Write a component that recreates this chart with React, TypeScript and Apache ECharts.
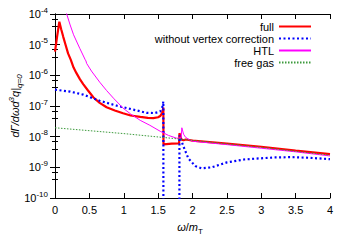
import React, { useEffect, useRef } from "react";
import * as echarts from "echarts";

// ω/m_T positions and rates dΓ/dωd³q
const fullOmega = [0, 0.03, 0.063, 0.09, 0.12, 0.15, 0.19, 0.23, 0.27, 0.31, 0.364, 0.41, 0.48, 0.56, 0.65, 0.75, 0.87, 0.99, 1.1, 1.24, 1.35, 1.43, 1.5, 1.53, 1.56, 1.576, 1.578, 1.7, 1.805, 1.81, 1.84, 1.87, 1.9, 1.95, 2.0, 2.5, 3.0, 3.5, 4.0];
const fullRate = [5.9e-6, 1.8e-5, 5.6e-5, 3.2e-5, 1.8e-5, 1.05e-5, 5.2e-6, 3.2e-6, 1.8e-6, 1.2e-6, 7.4e-7, 5.2e-7, 3.2e-7, 1.9e-7, 1.26e-7, 9.1e-8, 7.1e-8, 5.8e-8, 4.9e-8, 4.4e-8, 4.1e-8, 4.0e-8, 4.3e-8, 4.7e-8, 6.0e-8, 8.9e-8, 5.6e-9, 5.9e-9, 6.0e-9, 1.3e-8, 8.1e-9, 7.6e-9, 8.1e-9, 7.8e-9, 7.4e-9, 5.9e-9, 4.7e-9, 3.5e-9, 2.7e-9];

const noVertexOmega = [0, 0.22, 0.41, 0.65, 0.9, 1.14, 1.33, 1.45, 1.53, 1.56, 1.576, 1.577, 1.809, 1.81, 1.87, 1.94, 2.04, 2.13, 2.28, 2.5, 2.75, 2.96, 3.2, 3.44, 3.7, 4.0];
const noVertexRate = [3.4e-7, 2.95e-7, 2.35e-7, 1.48e-7, 1.02e-7, 7.6e-8, 6.0e-8, 5.9e-8, 6.6e-8, 8.9e-8, 1.4e-7, 1e-13, 1e-13, 1.1e-8, 4.7e-9, 1.95e-9, 1.1e-9, 9.3e-10, 1.0e-9, 1.45e-9, 1.8e-9, 1.95e-9, 2.1e-9, 2.15e-9, 2.05e-9, 1.85e-9];

const htlOmega = [0.12, 0.17, 0.22, 0.27, 0.36, 0.44, 0.45, 0.46, 0.53, 0.65, 0.75, 0.85, 0.99, 1.1, 1.24, 1.38, 1.53, 1.65, 1.77, 1.835, 1.845, 1.87, 1.9, 1.96, 2.0, 2.5, 3.0, 3.5, 4.0];
const htlRate = [2.4e-4, 1.0e-4, 4.4e-5, 2.1e-5, 7.6e-6, 3.2e-6, 2.95e-6, 2.45e-6, 1.38e-6, 6.0e-7, 3.2e-7, 1.8e-7, 8.5e-8, 5.5e-8, 3.4e-8, 2.35e-8, 1.5e-8, 1.1e-8, 8.9e-9, 9.1e-9, 1.95e-8, 1.2e-8, 9.5e-9, 7.8e-9, 7.1e-9, 5.5e-9, 4.2e-9, 3.2e-9, 2.35e-9];

const freeGasOmega = [0, 1.0, 1.6, 2.0, 3.0, 4.0];
const freeGasRate = [1.95e-8, 1.26e-8, 9.3e-9, 7.6e-9, 4.5e-9, 2.5e-9];

const seriesNames = ["full", "without vertex correction", "HTL", "free gas"];
const xTicks = [0, 0.5, 1, 1.5, 2, 2.5, 3, 3.5, 4];
const yTitle = "{i|dΓ/dωd}{s|3}{i|q|}{sub|q=0}";
const xTitle = "{i|ω}{n|/}{i|m}{sub|T}";

const FONT = "Liberation Sans";

function pairs(xs: number[], ys: number[]) {
  return xs.map((x, i) => [x, ys[i]]);
}

export default function App() {
  const ref = useRef<HTMLDivElement>(null);
  useEffect(() => {
    if (!ref.current) return;
    const chart = echarts.init(ref.current, null, { renderer: "svg" });
    const axisLine = { show: true, lineStyle: { color: "#000", width: 1 } };
    const yLabelRich = {
      b: { fontSize: 11, fontFamily: FONT, color: "#000", lineHeight: 16, verticalAlign: "middle" },
      s: { fontSize: 8, fontFamily: FONT, color: "#000", verticalAlign: "top", lineHeight: 10 },
    };
    const yAxisBase = {
      type: "log",
      logBase: 10,
      min: 1e-10,
      max: 1e-4,
      axisLine,
      splitLine: { show: false },
      axisTick: { show: true, inside: true, length: 5, lineStyle: { color: "#000" } },
      minorTick: { show: true, splitNumber: 3, length: 3, lineStyle: { color: "#000" } },
      minorSplitLine: { show: false },
    };
    const xAxisBase = {
      type: "value",
      min: 0,
      max: 4,
      interval: 0.5,
      axisLine,
      splitLine: { show: false },
      axisTick: { show: true, inside: true, length: 5, lineStyle: { color: "#000" } },
    };
    chart.setOption({
      animation: false,
      backgroundColor: "#fff",
      grid: { left: 55, right: 20, top: 14, bottom: 47, containLabel: false },
      legend: {
        data: seriesNames,
        orient: "vertical",
        right: 33,
        top: 16,
        align: "right",
        itemWidth: 32,
        itemHeight: 10,
        itemGap: 1,
        itemStyle: { opacity: 0 },
        textStyle: { fontSize: 11, fontFamily: FONT, color: "#000" },
      },
      graphic: [
        {
          type: "text",
          x: 15,
          y: 106,
          rotation: Math.PI / 2,
          style: {
            text: yTitle,
            align: "center",
            verticalAlign: "middle",
            rich: {
              i: { fontSize: 11, fontFamily: FONT, fontStyle: "italic", fill: "#000", lineHeight: 16, verticalAlign: "middle" },
              s: { fontSize: 8, fontFamily: FONT, fontStyle: "italic", fill: "#000", verticalAlign: "top", lineHeight: 10 },
              sub: { fontSize: 8, fontFamily: FONT, fontStyle: "italic", fill: "#000", verticalAlign: "bottom", lineHeight: 10 },
            },
          },
        },
      ],
      xAxis: [
        {
          ...xAxisBase,
          position: "bottom",
          axisLabel: {
            show: true,
            fontSize: 11,
            fontFamily: FONT,
            color: "#000",
            margin: 6,
            formatter: (v: number) => (xTicks.includes(v) ? String(v) : ""),
          },
          name: xTitle,
          nameLocation: "middle",
          nameGap: 21,
          nameTextStyle: {
            padding: [0, 5, 0, 0],
            rich: {
              i: { fontSize: 11, fontFamily: FONT, fontStyle: "italic", color: "#000", lineHeight: 16, verticalAlign: "middle" },
              n: { fontSize: 11, fontFamily: FONT, color: "#000", lineHeight: 16, verticalAlign: "middle" },
              sub: { fontSize: 8, fontFamily: FONT, color: "#000", verticalAlign: "bottom", lineHeight: 10 },
            },
          },
        },
        { ...xAxisBase, position: "top", axisLabel: { show: false } },
      ],
      yAxis: [
        {
          ...yAxisBase,
          position: "left",
          axisLabel: {
            show: true,
            margin: 7,
            formatter: (v: number) => {
              const e = Math.round(Math.log10(v));
              return `{b|10}{s|${e}}`;
            },
            rich: yLabelRich,
          },
        },
        { ...yAxisBase, position: "right", axisLabel: { show: false } },
      ],
      series: [
        {
          name: seriesNames[0],
          type: "line",
          data: pairs(fullOmega, fullRate),
          symbol: "none",
          clip: true,
          lineStyle: { color: "#ff0000", width: 2.2 },
          itemStyle: { color: "#ff0000" },
        },
        {
          name: seriesNames[1],
          type: "line",
          data: pairs(noVertexOmega, noVertexRate),
          symbol: "none",
          clip: true,
          lineStyle: { color: "#0000ff", width: 2.2, type: [2, 2.5] },
          itemStyle: { color: "#0000ff" },
        },
        {
          name: seriesNames[2],
          type: "line",
          data: pairs(htlOmega, htlRate),
          symbol: "none",
          clip: true,
          lineStyle: { color: "#ff00ff", width: 1 },
          itemStyle: { color: "#ff00ff" },
        },
        {
          name: seriesNames[3],
          type: "line",
          data: pairs(freeGasOmega, freeGasRate),
          symbol: "none",
          clip: true,
          lineStyle: { color: "#3c9a3c", width: 1, type: [1.5, 1.5] },
          itemStyle: { color: "#3c9a3c" },
        },
      ],
    });
    return () => chart.dispose();
  }, []);
  return <div ref={ref} style={{ width: 350, height: 245, position: "fixed", left: 0, top: 0 }} />;
}
